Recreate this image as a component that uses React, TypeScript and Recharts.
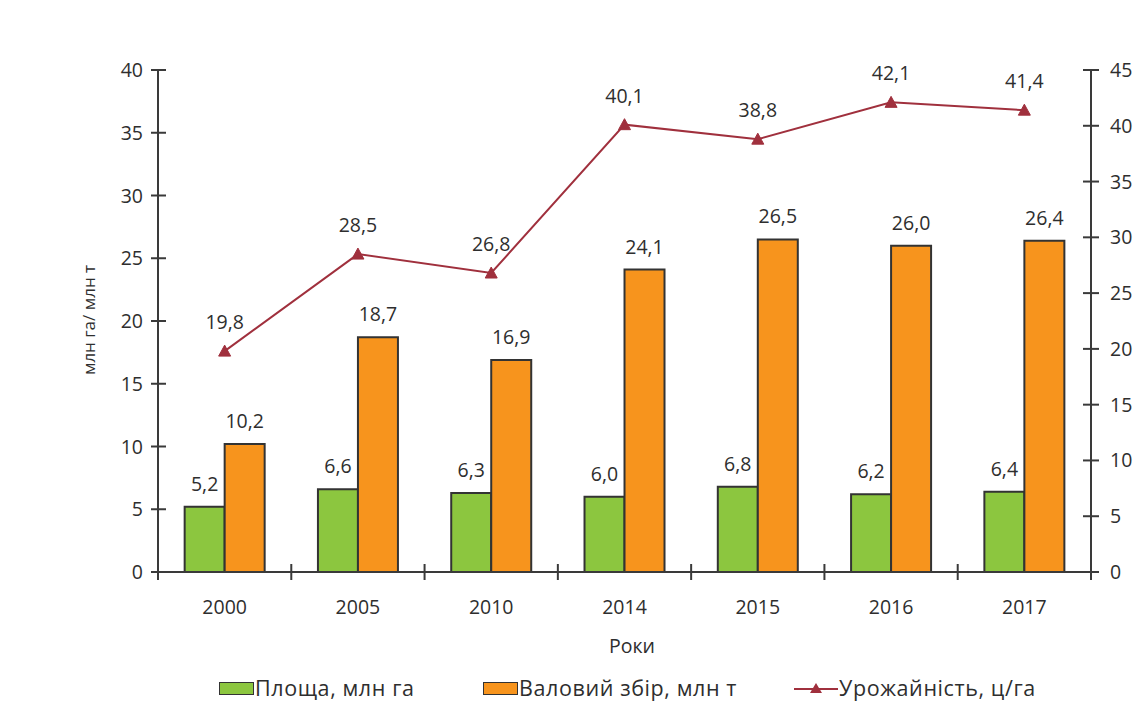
import React from "react";
import { ComposedChart, Bar, Line, XAxis, YAxis, LabelList } from "recharts";

const years = ["2000", "2005", "2010", "2014", "2015", "2016", "2017"];
const area = [5.2, 6.6, 6.3, 6.0, 6.8, 6.2, 6.4];
const harvest = [10.2, 18.7, 16.9, 24.1, 26.5, 26.0, 26.4];
const yieldVals = [19.8, 28.5, 26.8, 40.1, 38.8, 42.1, 41.4];
const leftTicks = [0, 5, 10, 15, 20, 25, 30, 35, 40];
const rightTicks = [0, 5, 10, 15, 20, 25, 30, 35, 40, 45];

const seriesNames = {
  area: "Площа, млн га",
  harvest: "Валовий збір, млн т",
  yield: "Урожайність, ц/га",
};

const data = years.map((y, i) => ({
  year: y,
  area: area[i],
  harvest: harvest[i],
  yield: yieldVals[i],
}));

const W = 1135;
const H = 702;
const M_LEFT = 158;
const M_RIGHT = 44;
const PLOT_W = W - M_LEFT - M_RIGHT;
const BAND = PLOT_W / years.length;

const FONT = "'Open Sans', sans-serif";
const TXT = "#2e2e2e";
const AXIS = "#3a3a3a";
const GREEN = "#8cc63f";
const ORANGE = "#f7941d";
const RED = "#a0303d";
const FS = 19.5;

const fmt = (v: any) => Number(v).toFixed(1).replace(".", ",");

const LeftTick = (props: any) => {
  const { x, y, payload } = props;
  return (
    <g>
      <line x1={x - 7} x2={x + 8} y1={y} y2={y} stroke={AXIS} strokeWidth={2} />
      <text x={x - 15} y={y} dy="0.36em" textAnchor="end" fontFamily={FONT} fontSize={FS} fill={TXT}>
        {payload.value}
      </text>
    </g>
  );
};

const RightTick = (props: any) => {
  const { x, y, payload } = props;
  return (
    <g>
      <line x1={x - 8} x2={x + 8} y1={y} y2={y} stroke={AXIS} strokeWidth={2} />
      <text x={x + 19} y={y} dy="0.36em" textAnchor="start" fontFamily={FONT} fontSize={FS} fill={TXT}>
        {payload.value}
      </text>
    </g>
  );
};

const BottomTick = (props: any) => {
  const { x, y, payload, index } = props;
  const last = index === years.length - 1;
  return (
    <g>
      <line x1={x - BAND / 2} x2={x - BAND / 2} y1={y - 8} y2={y + 8} stroke={AXIS} strokeWidth={2} />
      {last && (
        <line x1={x + BAND / 2} x2={x + BAND / 2} y1={y - 8} y2={y + 8} stroke={AXIS} strokeWidth={2} />
      )}
      <text x={x} y={y + 42} textAnchor="middle" fontFamily={FONT} fontSize={FS} fill={TXT}>
        {payload.value}
      </text>
    </g>
  );
};

const TriangleDot = (props: any) => {
  const { cx, cy, index } = props;
  if (cx == null || cy == null) return <g key={`d-${index}`} />;
  return (
    <path
      key={`d-${index}`}
      d={`M${cx},${cy - 6} L${cx + 6},${cy + 5} L${cx - 6},${cy + 5} Z`}
      fill={RED}
      stroke={RED}
      strokeWidth={1}
    />
  );
};

const Legend = () => (
  <div
    style={{
      position: "absolute",
      top: 676,
      left: 0,
      width: W,
      height: 24,
      fontFamily: FONT,
      fontSize: 21.5,
      letterSpacing: 0.6,
      color: TXT,
    }}
  >
    <div style={{ position: "absolute", left: 219, top: 6, width: 33, height: 11, background: GREEN, border: "1.5px solid #333" }} />
    <div style={{ position: "absolute", left: 255, top: 0, lineHeight: "24px", whiteSpace: "nowrap" }}>{seriesNames.area}</div>
    <div style={{ position: "absolute", left: 483, top: 6, width: 33, height: 11, background: ORANGE, border: "1.5px solid #333" }} />
    <div style={{ position: "absolute", left: 519, top: 0, lineHeight: "24px", whiteSpace: "nowrap" }}>{seriesNames.harvest}</div>
    <svg style={{ position: "absolute", left: 794, top: 0 }} width={44} height={24}>
      <line x1={0} x2={44} y1={13} y2={13} stroke={RED} strokeWidth={2} />
      <path d="M22,7 L28,17 L16,17 Z" fill={RED} />
    </svg>
    <div style={{ position: "absolute", left: 839, top: 0, lineHeight: "24px", whiteSpace: "nowrap" }}>{seriesNames.yield}</div>
  </div>
);

export default function App() {
  return (
    <div style={{ position: "fixed", left: 0, top: 0, width: W, height: H, background: "#ffffff", overflow: "hidden" }}>
      <ComposedChart
        width={W}
        height={H}
        data={data}
        margin={{ top: 70, right: 0, bottom: 100, left: 0 }}
        barGap={0}
        barCategoryGap="20%"
      >
        <XAxis
          dataKey="year"
          height={30}
          axisLine={{ stroke: AXIS, strokeWidth: 2 }}
          tickLine={false}
          tickSize={0}
          tickMargin={0}
          tick={<BottomTick />}
          interval={0}
        />
        <YAxis
          yAxisId="left"
          orientation="left"
          width={M_LEFT}
          domain={[0, 40]}
          ticks={leftTicks}
          interval={0}
          axisLine={{ stroke: AXIS, strokeWidth: 2 }}
          tickLine={false}
          tickSize={0}
          tickMargin={0}
          tick={<LeftTick />}
        />
        <YAxis
          yAxisId="right"
          orientation="right"
          width={M_RIGHT}
          domain={[0, 45]}
          ticks={rightTicks}
          interval={0}
          axisLine={{ stroke: AXIS, strokeWidth: 2 }}
          tickLine={false}
          tickSize={0}
          tickMargin={0}
          tick={<RightTick />}
        />
        <Bar yAxisId="left" dataKey="area" name={seriesNames.area} fill={GREEN} stroke="#333" strokeWidth={2} isAnimationActive={false}>
          <LabelList dataKey="area" position="top" offset={16} formatter={fmt} fill={TXT} fontFamily={FONT} fontSize={FS} />
        </Bar>
        <Bar yAxisId="left" dataKey="harvest" name={seriesNames.harvest} fill={ORANGE} stroke="#333" strokeWidth={2} isAnimationActive={false}>
          <LabelList dataKey="harvest" position="top" offset={16} formatter={fmt} fill={TXT} fontFamily={FONT} fontSize={FS} />
        </Bar>
        <Line
          yAxisId="right"
          dataKey="yield"
          name={seriesNames.yield}
          stroke={RED}
          strokeWidth={2}
          dot={TriangleDot}
          activeDot={false}
          isAnimationActive={false}
        >
          <LabelList dataKey="yield" position="top" offset={22} formatter={fmt} fill={TXT} fontFamily={FONT} fontSize={FS} />
        </Line>
      </ComposedChart>
      <div
        style={{
          position: "absolute",
          left: 88,
          top: 320,
          transform: "translate(-50%, -50%) rotate(-90deg)",
          whiteSpace: "nowrap",
          fontFamily: FONT,
          fontSize: 17,
          color: TXT,
        }}
      >
        млн га/ млн т
      </div>
      <div
        style={{
          position: "absolute",
          left: 632,
          top: 645,
          transform: "translate(-50%, -50%)",
          whiteSpace: "nowrap",
          fontFamily: FONT,
          fontSize: 19.5,
          color: TXT,
        }}
      >
        Роки
      </div>
      <Legend />
    </div>
  );
}
